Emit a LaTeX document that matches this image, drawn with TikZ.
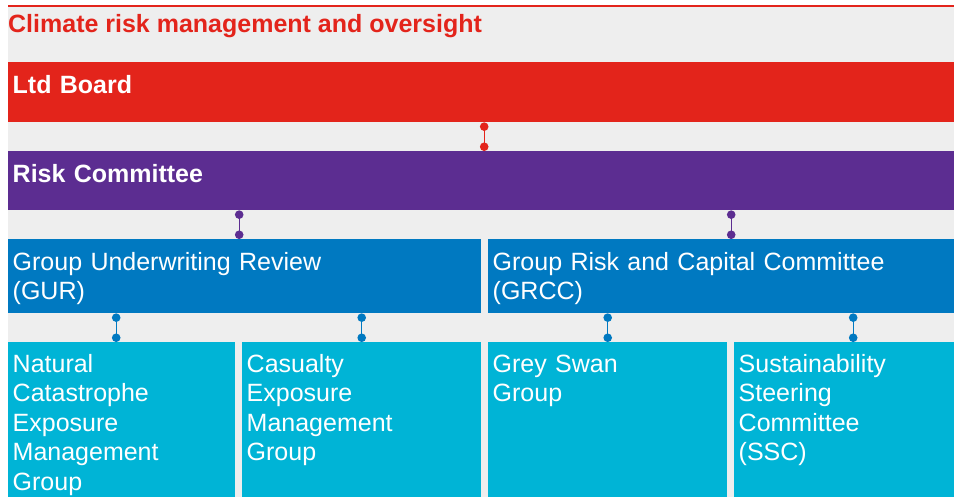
\documentclass[tikz,border=0pt]{standalone}
\usepackage{fontspec}
\setmainfont{Liberation Sans}
\usetikzlibrary{positioning,arrows.meta}

\definecolor{riskred}{HTML}{E3241B}
\definecolor{riskpurple}{HTML}{5C2D91}
\definecolor{riskblue}{HTML}{0079C1}
\definecolor{riskcyan}{HTML}{00B4D6}
\definecolor{riskgrey}{HTML}{EEEEEE}

\tikzset{
  band/.style={inner sep=0pt, anchor=north west, draw=none},
  headtext/.style={inner sep=0pt, anchor=north west, text=white, align=left,
    text width=440pt, font=\fontsize{25}{29.5}\selectfont\bfseries,
    execute at begin node={\noindent\rule{0pt}{19pt}}},
  bodytext/.style={inner sep=0pt, anchor=north west, text=white, align=left,
    text width=440pt, font=\fontsize{25}{29.5}\selectfont,
    execute at begin node={\noindent\rule{0pt}{19pt}}},
  link/.style={draw=#1, line width=1.3pt,
    {Circle[length=8.5pt,width=8.5pt]}-{Circle[length=8.5pt,width=8.5pt]}}
}

\begin{document}
\begin{tikzpicture}[x=1pt, y=-1pt]
% Hintergrund
\useasboundingbox (0,0) rectangle (954,497);
\fill[riskgrey] (8,7) rectangle (954,497);
\fill[riskred] (8,5) rectangle (954,7);
\node[inner sep=0pt, anchor=base west, text=riskred,
  font=\fontsize{25}{29.5}\selectfont\bfseries] (title) at (8,33)
  {Climate risk management and oversight};

% Ebene 1 und 2
\node[band, fill=riskred, minimum width=946, minimum height=60] (board) at (8,62) {};
\node[headtext] (boardtxt) at ([shift={(4.5,12)}]board.north west) {Ltd Board};
\node[band, fill=riskpurple, minimum width=946, minimum height=59] (risk) at (8,151) {};
\node[headtext] (risktxt) at ([shift={(4.5,12)}]risk.north west) {Risk Committee};

% Ebene 3
\node[band, fill=riskblue, minimum width=473, minimum height=74] (gur) at (8,239) {};
\node[bodytext] (gurtxt) at ([shift={(4.5,12)}]gur.north west) {Group Underwriting Review\\(GUR)};
\node[band, fill=riskblue, minimum width=466, minimum height=74] (grcc) at (488,239) {};
\node[bodytext] (grcctxt) at ([shift={(4.5,12)}]grcc.north west) {Group Risk and Capital Committee\\(GRCC)};

% Ebene 4
\node[band, fill=riskcyan, minimum width=227, minimum height=155] (natcat) at (8,342) {};
\node[bodytext] (natcattxt) at ([shift={(4.5,11)}]natcat.north west)
  {Natural\\Catastrophe\\Exposure\\Management\\Group};
\node[band, fill=riskcyan, minimum width=239, minimum height=155] (casualty) at (242,342) {};
\node[bodytext] (casualtytxt) at ([shift={(4.5,11)}]casualty.north west)
  {Casualty\\Exposure\\Management\\Group};
\node[band, fill=riskcyan, minimum width=239, minimum height=155] (greyswan) at (488,342) {};
\node[bodytext] (greyswantxt) at ([shift={(4.5,11)}]greyswan.north west)
  {Grey Swan\\Group};
\node[band, fill=riskcyan, minimum width=220, minimum height=155] (ssc) at (734,342) {};
\node[bodytext] (ssctxt) at ([shift={(4.5,11)}]ssc.north west)
  {Sustainability\\Steering\\Committee\\(SSC)};

% Verbindungen
\draw[link=riskred] ([xshift=3]board.south) coordinate (l1) -- (l1 |- risk.north);
\draw[link=riskpurple] ([xshift=-5.5]gur.north) coordinate (l2) -- (l2 |- risk.south);
\draw[link=riskpurple] ([xshift=10]grcc.north) coordinate (l3) -- (l3 |- risk.south);
\draw[link=riskblue] ([xshift=-5.5]natcat.north) coordinate (l4) -- (l4 |- gur.south);
\draw[link=riskblue] (casualty.north) -- (casualty.north |- gur.south);
\draw[link=riskblue] (greyswan.north) -- (greyswan.north |- grcc.south);
\draw[link=riskblue] ([xshift=9]ssc.north) coordinate (l5) -- (l5 |- grcc.south);
\end{tikzpicture}
\end{document}
